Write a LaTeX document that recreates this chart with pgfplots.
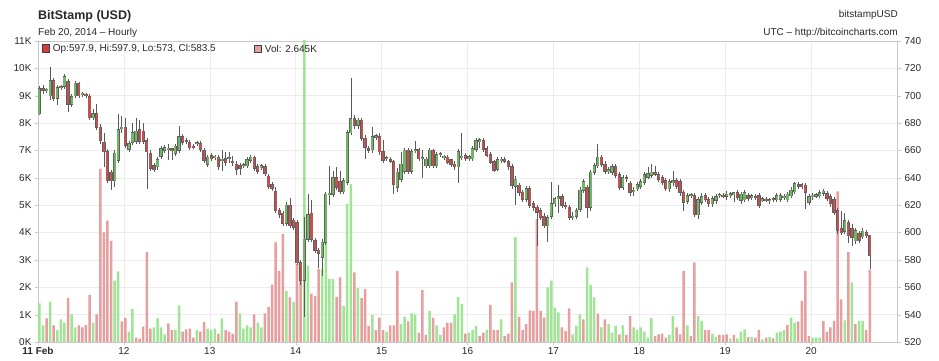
\documentclass[border=0pt]{standalone}
\usepackage{fontspec}
\setmainfont{Liberation Sans}
\usepackage{pgfplots}
\usepackage{pgfplotstable}
\pgfplotsset{compat=1.18}
\definecolor{volG}{RGB}{160,228,150}
\definecolor{volR}{RGB}{230,158,158}
\definecolor{cG}{RGB}{112,182,100}
\definecolor{cR}{RGB}{192,82,82}
\definecolor{cEdge}{RGB}{95,95,95}
\definecolor{wick}{RGB}{90,90,90}
\definecolor{gridc}{RGB}{236,236,236}
\definecolor{axc}{RGB}{200,200,200}
\definecolor{txt}{RGB}{40,40,40}
\definecolor{legR}{RGB}{210,60,60}
\definecolor{legP}{RGB}{228,160,160}

\pgfplotstableread{
h o hi lo c v vc
0 687 707 686 705 1.41 1
1 705 708 701 704 0.61 1
2 704 706 702 704.5 0.86 0
3 700 721 697 711 1.48 1
4 711 713 696 698 0.61 0
5 698 708 693 706 0.43 1
6 706 708 704 706.5 0.83 1
7 707 716 705 714 0.71 1
8 710 712 688 694 1.60 0
9 694 701 692 699 1.01 1
10 700 711 698 709 0.53 1
11 709 710 698 700 0.61 0
12 701 703 699 701.5 0.53 0
13 701 702 698 700 0.62 0
14 699 701 682 684 1.72 0
15 684 690 682 687 0.71 1
16 687 694 675 677 1.01 0
17 677 679 665 667 6.33 0
18 666 673 648 659 4.01 0
19 659 661 636 638 4.44 0
20 644 646 631 638 3.70 0
21 638 660 633 658 2.24 1
22 653 687 651 675 2.58 1
23 676 685 673 677 0.75 0
24 677 684 662 664 0.87 0
25 661 667 659 665 0.38 1
26 666 680 664 673 1.20 1
27 667 684 665 674 0.16 0
28 675 682 665 667 0.12 0
29 674 680 665 667 0.56 0
30 667 669 632 659 3.28 0
31 658 660 645 647 0.49 0
32 649 651 644 646 0.53 1
33 648 655 646 653 0.86 1
34 656 663 654 661 0.53 1
35 660 664 658 662 0.28 1
36 661 665 653 661.5 0.68 0
37 661 662 653 660 0.43 0
38 658 665 656 663 0.43 1
39 660 678 658 670 1.34 1
40 670 672 664 666 0.38 0
41 667 669 665 666.5 0.46 0
42 666 668 660 662 0.49 0
43 663 665 661 662.5 0.16 0
44 665 667 663 665.5 0.43 1
45 665 667 659 661 0.38 0
46 660 662 651 653 0.73 0
47 650 657 648 655 0.49 1
48 656 658 652 654 0.43 1
49 655 657 653 655.5 0.49 1
50 655 657 646 648 0.31 0
51 653 660 645 653.5 0.86 1
52 654 659 649 651 0.43 0
53 654 659 651 654.5 0.38 0
54 652 656 649 651.5 0.31 0
55 650 652 642 646.5 1.48 0
56 649 651 642 647 1.05 1
57 649 651 647 649.5 0.49 1
58 649 655 647 653 0.61 1
59 653 657 651 655 0.53 1
60 655 656 645 647 1.01 0
61 648 650 643 645 0.71 1
62 648 650 646 648.5 0.53 1
63 648 650 641 643.5 1.05 0
64 641 643 632 634 1.28 0
65 635 637 630 632 2.10 0
66 630 633 614 616 3.64 0
67 616 618 611 613.5 2.60 0
68 614 616 605 607 3.95 0
69 607 622 605 620 1.87 1
70 620 625 603 605 1.63 0
71 609 611 602 604 1.47 1
72 607 609 576 578 2.85 0
73 578 580 562 565 2.24 0
74 565 611 538 595 11.6 1
75 595 628 593 613 2.79 1
76 614 624 593 595 1.77 0
77 594 596 585 587 1.69 0
78 587 589 574 585 2.67 0
79 582 595 568 593 2.67 1
80 593 630 591 628 5.40 1
81 628 649 620 628.5 2.30 1
82 628 645 626 640 2.30 1
83 640 648 631 633 1.65 0
84 637 645 628 630 2.36 0
85 630 640 628 638 1.32 1
86 637 675 635 673 5.05 1
87 673 713 671 683 5.78 1
88 683 686 676 678.5 2.54 0
89 678.5 684 676 682 1.97 1
90 682 684 667 669 1.60 0
91 669 671 654 662.5 1.93 0
92 661 663 658 660.5 0.59 0
93 660.5 677 658 670 0.99 1
94 670 672 668 670.5 0.43 0
95 670 673 657 659 0.89 0
96 659 668 651 653 0.43 0
97 654 656 652 654.5 0.38 1
98 653 655 651 652.5 0.61 0
99 651.5 653 628 635 0.61 0
100 633 647 630 644 2.60 0
101 639 659 637 650 0.65 1
102 645 662 643 660 0.92 1
103 660 662 643 645 0.75 0
104 645 661 643 659 1.05 1
105 660 667 658 660.5 1.00 1
106 660.5 662 652 654 0.34 0
107 654 660 640 654.5 1.90 0
108 649 655 647 653.5 0.26 0
109 649 662 647 660 1.14 1
110 660 661 647 649 0.89 0
111 649 659 647 657 0.61 1
112 657 659 655 657.5 0.26 1
113 655 657 653 655.5 0.53 0
114 655 657 650 651.5 0.71 0
115 653 654 648 650 0.71 0
116 650 652 646 648 1.01 1
117 648 661 636 659 1.65 1
118 655 673 653 655.5 1.38 1
119 656 658 652 654 0.31 0
120 654.5 657 652 655 0.34 1
121 654 663 652 661 0.43 1
122 661 669 659 667 0.59 1
123 667 669 662 667.5 0.22 0
124 667 669 659 661 0.34 0
125 661 663 655 656.5 0.43 1
126 657 659 650 651.5 1.36 0
127 651.5 653 644 645.5 0.43 0
128 646.5 655 645 653 0.43 0
129 653 655 651 653.5 0.83 1
130 653 655 651 652.5 0.22 0
131 651.5 653 646 648 0.31 0
132 648 650 632 634.5 2.18 0
133 634 641 620 639 3.83 1
134 634.5 636 627 629.5 0.92 0
135 629.5 631 622 624.5 0.43 0
136 624.5 634 622 632 0.65 0
137 632 634 618 620 1.16 0
138 621 623 616 618.5 1.14 0
139 618.5 620 590 615 4.50 0
140 616 618 609 611 1.14 0
141 612 614 603 605 0.89 0
142 605 613 593 611 2.00 1
143 612 637 610 621 2.24 1
144 621 626 619 624.5 1.26 1
145 625 635 614 626 1.08 1
146 626 628 618 620 0.53 0
147 620 622 617 619 0.40 0
148 618.5 620 609 611 1.23 0
149 611 615 609 612 0.28 1
150 612 618 610 616 0.59 1
151 617 633 615 631 1.01 1
152 631 639 629 637 0.83 0
153 633 635 611 618.5 2.73 1
154 618.5 646 616 644 2.09 1
155 644 651 642 649 1.63 1
156 649 665 647 655 1.04 0
157 655 657 648 650 0.53 1
158 650 652 643 645 0.83 0
159 645 648 643 645.5 0.65 1
160 644 650 642 648 0.34 1
161 648 650 640 642 0.59 1
162 642 644 631 633 0.28 0
163 633 642 631 640 0.61 1
164 640 642 637 639.5 0.26 0
165 636 638 627 629.5 0.95 0
166 630 633 627 631 0.53 1
167 632 637 630 635 0.43 1
168 634 639 632 637 0.53 1
169 637 644 635 642 0.38 1
170 640.5 648 639 643 0.16 1
171 642 650 640 644 0.87 1
172 643.5 649 641 643 0.22 0
173 642 644 637 639 0.28 0
174 640 642 635 637 0.31 0
175 638 640 630 632 0.16 0
176 632 639 630 637 0.26 1
177 636.5 645 634 638 0.95 1
178 638 640 632 634 0.53 0
179 637 639 627 629.5 0.28 0
180 629.5 631 616 622 2.60 0
181 623 629 621 627 0.61 1
182 627 629 625 627.5 0.22 0
183 627 629 611 613 2.91 0
184 613 626 610 624 0.95 1
185 622 629 620 626 0.77 1
186 627 629 622 624 0.43 0
187 624 626 619 621 0.43 0
188 621 627 619 624.5 0.31 1
189 623.5 628 621 626 0.18 1
190 627 629 625 627.5 0.26 0
191 627 629 625 626.5 0.26 0
192 626.5 630 624 628 0.28 0
193 627.5 630 625 628 0.13 1
194 628.3 630 622 628.6 0.26 0
195 629 631 624 626 0.13 1
196 623.5 630 621 628 0.38 1
197 624 631 622 629 0.46 1
198 627 629 623 625 0.18 0
199 626 628 624 626.5 0.18 1
200 626 628 624 625.7 0.16 0
201 627 629 618 620 0.43 0
202 624 626 622 624.3 0.10 1
203 624 626 622 623.7 0.16 0
204 623.5 625 621 623.8 0.18 1
205 624.5 626 622 624.2 0.13 0
206 624 629 622 627 0.34 1
207 624.5 629 622 627 0.38 1
208 626 628 624 626.3 0.43 1
209 624 630 622 628 0.62 0
210 627 633 625 631 0.89 1
211 630 637 628 635.5 0.71 1
212 635 637 632 634 0.75 0
213 634.5 636 632 634.2 1.50 0
214 634.4 636 617 629.5 2.60 0
215 622 628 620 626 0.22 0
216 626.5 629 624 627 0.16 1
217 627 629 625 627.3 0.16 1
218 627 631 625 629 0.16 1
219 628.8 632 627 630 0.77 0
220 628.3 630 623 625 0.38 0
221 626 628 619 621 0.53 0
222 624 626 613 615 0.77 0
223 616 618 599 601.5 5.50 0
224 603 616 598 600 1.56 0
225 601 614 599 608.7 0.79 1
226 607.5 609 592 597.7 3.28 0
227 602.6 606 590 596.5 2.18 1
228 594 603 592 601.4 0.65 0
229 599 601 592 594 0.77 1
230 597 603 595 601 0.77 1
231 600 602 596 597.7 0.43 0
232 597.9 597.9 573 583.5 2.645 0
}\data

\newcommand\sq[1]{{\setlength{\fboxsep}{0pt}\setlength{\fboxrule}{0.6pt}\fcolorbox{black!75}{#1}{\rule{0pt}{6.5pt}\hspace{6.5pt}}}}

\begin{document}
\begin{tikzpicture}
\useasboundingbox (0pt,0pt) rectangle (939pt,361pt);
% volume axis (left)
\begin{axis}[
  at={(38pt,19pt)}, anchor=south west,
  scale only axis, width=859pt, height=301pt,
  xmin=0, xmax=240, ymin=0, ymax=11,
  axis line style={axc},
  xtick={0,24,...,216},
  xticklabels={\textbf{11 Feb},12,13,14,15,16,17,18,19,20},
  xtick pos=bottom, ytick pos=left,
  ytick={0,1,...,11},
  yticklabels={0K,1K,2K,3K,4K,5K,6K,7K,8K,9K,10K,11K},
  tick align=outside, major tick length=3pt,
  tick style={axc},
  xmajorgrids, ymajorgrids,
  grid style={gridc, line width=0.6pt},
  ticklabel style={font=\fontsize{10}{12}\selectfont, text=txt},
  xticklabel style={yshift=1pt},
]
\addplot[ybar, bar width=2.5pt, bar shift=0pt, fill=volG, draw=none,
  restrict expr to domain={\thisrow{vc}}{0.5:2}]
  table[x expr=\thisrow{h}+0.4, y=v]{\data};
\addplot[ybar, bar width=2.5pt, bar shift=0pt, fill=volR, draw=none,
  restrict expr to domain={\thisrow{vc}}{-1:0.5}]
  table[x expr=\thisrow{h}+0.4, y=v]{\data};
\end{axis}
% price axis (right)
\begin{axis}[
  at={(38pt,19pt)}, anchor=south west,
  scale only axis, width=859pt, height=301pt,
  xmin=0, xmax=240, ymin=520, ymax=740,
  hide x axis,
  axis y line*=right,
  axis line style={axc},
  ytick={520,540,...,740},
  yticklabels={520,540,560,580,600,620,640,660,680,700,720,740},
  tick align=outside, major tick length=4pt,
  tick style={axc},
  ticklabel style={font=\fontsize{10}{12}\selectfont, text=txt},
]
% wicks
\addplot[draw=none, mark=none,
  error bars/.cd, y dir=both, y explicit, error mark=none,
  error bar style={draw=wick, line width=0.6pt, solid}]
  table[x expr=\thisrow{h}+0.4, y expr={(\thisrow{hi}+\thisrow{lo})/2},
        y error expr={(\thisrow{hi}-\thisrow{lo})/2}]{\data};
% body outline
\addplot[draw=none, mark=none,
  error bars/.cd, y dir=both, y explicit, error mark=none,
  error bar style={draw=cEdge, line width=3.3pt, solid}]
  table[x expr=\thisrow{h}+0.4, y expr={(\thisrow{o}+\thisrow{c})/2},
        y error expr={max(abs(\thisrow{c}-\thisrow{o})/2,0.4)+0.45}]{\data};
% up bodies
\addplot[draw=none, mark=none,
  restrict expr to domain={\thisrow{c}-\thisrow{o}}{0:1000},
  error bars/.cd, y dir=both, y explicit, error mark=none,
  error bar style={draw=cG, line width=2.1pt, solid}]
  table[x expr=\thisrow{h}+0.4, y expr={(\thisrow{o}+\thisrow{c})/2},
        y error expr={max(abs(\thisrow{c}-\thisrow{o})/2,0.4)}]{\data};
% down bodies
\addplot[draw=none, mark=none,
  restrict expr to domain={\thisrow{c}-\thisrow{o}}{-1000:-0.001},
  error bars/.cd, y dir=both, y explicit, error mark=none,
  error bar style={draw=cR, line width=2.1pt, solid}]
  table[x expr=\thisrow{h}+0.4, y expr={(\thisrow{o}+\thisrow{c})/2},
        y error expr={max(abs(\thisrow{c}-\thisrow{o})/2,0.4)}]{\data};
\end{axis}
% texts
\node[anchor=west, inner sep=0pt, text=txt, font=\fontsize{12.5}{14}\selectfont\bfseries] at (38pt,345pt) {BitStamp (USD)};
\node[anchor=west, inner sep=0pt, text=txt, font=\fontsize{10}{12}\selectfont] at (38pt,328pt) {Feb 20, 2014 -- Hourly};
\node[anchor=east, inner sep=0pt, text=txt, font=\fontsize{10}{12}\selectfont] at (898pt,346pt) {bitstampUSD};
\node[anchor=east, inner sep=0pt, text=txt, font=\fontsize{10}{12}\selectfont] at (898pt,328pt) {UTC -- http://bitcoincharts.com};
\node[anchor=west, inner sep=0pt, text=txt, font=\fontsize{10}{12}\selectfont] at (42pt,312pt) {\sq{legR}\hspace{3pt}Op:597.9, Hi:597.9, Lo:573, Cl:583.5};
\node[anchor=west, inner sep=0pt, text=txt, font=\fontsize{10}{12}\selectfont] at (254pt,312pt) {\sq{legP}\hspace{3pt}Vol: 2.645K};
\end{tikzpicture}
\end{document}
